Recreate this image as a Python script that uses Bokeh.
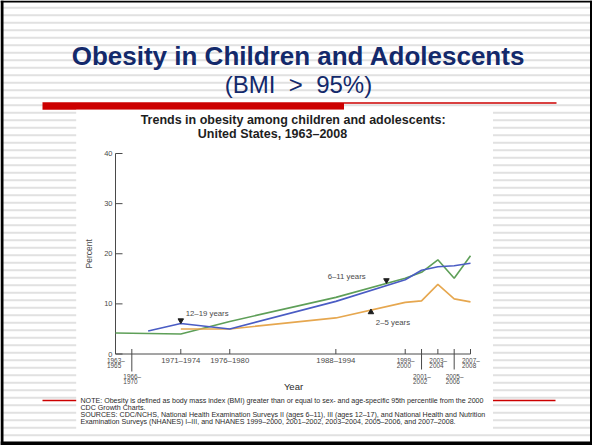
import numpy as np
from bokeh.plotting import figure
from bokeh.models import Range1d
from bokeh.core.properties import value
from bokeh.embed import file_html
from bokeh.resources import INLINE

# ---- data -----------------------------------------------------------------
periods = ["1963–1965", "1966–1970", "1971–1974", "1976–1980", "1988–1994",
           "1999–2000", "2001–2002", "2003–2004", "2005–2006", "2007–2008"]
survey_x = [1964, 1968, 1972, 1978, 1991, 1999.5, 2001.5, 2003.5, 2005.5, 2007.5]

# obesity prevalence, percent (None = age group not surveyed)
age_6_11 = [4.2, None, 4.0, 6.5, 11.3, 15.1, 16.3, 18.8, 15.1, 19.6]
age_12_19 = [None, 4.6, 6.1, 5.0, 10.5, 14.8, 16.7, 17.4, 17.6, 18.1]
age_2_5 = [None, None, 5.0, 5.0, 7.2, 10.3, 10.6, 13.9, 11.0, 10.4]

y_ticks = [0, 10, 20, 30, 40]

# x-axis labels: position, row (0 upper, 1 lower), stacked on two lines
label_x = [1964, 1966, 1972, 1978, 1991, 1999.5, 2001.5, 2003.5, 2005.5, 2007.5]
label_row = [0, 1, 0, 0, 0, 0, 1, 0, 1, 0]
label_stacked = [True, True, False, False, False, True, True, True, True, True]

# series call-outs: text, label anchor, pointer marker
callout_text = ["12–19 years", "6–11 years", "2–5 years"]
callout_x = [1972.6, 1990.0, 1995.9]
callout_y = [8.0, 15.5, 6.35]
pointer_x = [1972.0, 1997.2, 1995.3]
pointer_y = [6.7, 14.7, 8.35]
pointer_marker = ["inverted_triangle", "inverted_triangle", "triangle"]

notes = [
    "NOTE: Obesity is defined as body mass index (BMI) greater than or equal to sex- and age-specific 95th percentile from the 2000",
    "CDC Growth Charts.",
    "SOURCES: CDC/NCHS, National Health Examination Surveys II (ages 6–11), III (ages 12–17), and National Health and Nutrition",
    "Examination Surveys (NHANES) I–III, and NHANES 1999–2000, 2001–2002, 2003–2004, 2005–2006, and 2007–2008.",
]

# ---- page geometry -----------------------------------------------------------
W, H = 592, 445
X0_PX, K = 115.0, 8.161          # pixel of first survey, pixels per year
Y0_PX, PP = 353.5, 5.0125        # pixel of 0 %, pixels per percent
YEAR0 = survey_x[0]


def sx(px):
    return YEAR0 + (px - X0_PX) / K


def sy(py):
    return (Y0_PX - py) / PP


p = figure(width=W, height=H, output_backend="svg", toolbar_location=None,
           x_range=Range1d(sx(0), sx(W)), y_range=Range1d(sy(H), sy(0)),
           x_axis_location=None, y_axis_location=None, min_border=0,
           background_fill_color="white", border_fill_color="white",
           outline_line_color=None)
p.grid.visible = False

# slide background stripes
centers = np.arange(7.3, H, 7.5)
p.quad(left=sx(0), right=sx(W), top=[sy(c - 1.0) for c in centers],
       bottom=[sy(c + 1.0) for c in centers], fill_color="#e1e1e1", line_color=None)

# red rules
RED = "#cc0000"
p.quad(left=[sx(42), sx(343.5), sx(42)], right=[sx(343.5), sx(556), sx(555)],
       top=[sy(101.7), sy(101.8), sy(399.3)], bottom=[sy(109.3), sy(103.2), sy(400.7)],
       fill_color=RED, line_color=None)

# slide heading
NAVY = "#13296b"
p.text(x=[sx(298)], y=[sy(55.5)], text=["Obesity in Children and Adolescents"],
       text_font=value("Liberation Sans"), text_font_size=value("26px"),
       text_font_style="bold", text_color=NAVY, text_align="center",
       text_baseline="middle")
p.text(x=[sx(298)], y=[sy(84.2)], text=["(BMI\u00a0\u00a0>\u00a0\u00a095%)"],
       text_font=value("Liberation Sans"), text_font_size=value("24px"),
       text_color=NAVY, text_align="center", text_baseline="middle")

# white chart panel
p.quad(left=sx(75.7), right=sx(492.5), top=sy(109.3), bottom=sy(429),
       fill_color="white", line_color=None)

INK = "#2a2a2a"
GREY = "#4a4a4a"
FONT = value("Liberation Sans")

p.text(x=[sx(292.6), sx(272)], y=[sy(119.8), sy(133)],
       text=["Trends in obesity among children and adolescents:",
             "United States, 1963–2008"],
       text_font=FONT, text_font_size=value("12.5px"), text_font_style="bold",
       text_color="#1e1e1e", text_align="center", text_baseline="middle")

# y axis
p.segment(x0=[YEAR0], y0=[y_ticks[0]], x1=[YEAR0], y1=[y_ticks[-1]],
          line_color=GREY, line_width=1)
p.segment(x0=[YEAR0] * len(y_ticks), y0=y_ticks,
          x1=[YEAR0 + 7 / K] * len(y_ticks), y1=y_ticks, line_color=GREY, line_width=1)
p.text(x=[sx(112)] * len(y_ticks), y=y_ticks, text=[str(t) for t in y_ticks],
       text_font=FONT, text_font_size=value("7.5px"), text_color=GREY,
       text_align="right", text_baseline="middle")
p.text(x=[sx(88.3)], y=[20], text=["Percent"], angle=np.pi / 2,
       text_font=FONT, text_font_size=value("8.5px"), text_color=GREY,
       text_align="center", text_baseline="middle")

# x axis
p.segment(x0=[YEAR0], y0=[0], x1=[survey_x[-1]], y1=[0], line_color=GREY, line_width=1)
tick_up = 5 / PP
for x, row, stacked, lab in zip(label_x, label_row, label_stacked, periods):
    if x != YEAR0:
        low = -(17.5 if x == label_x[1] else 15.5) / PP if row else 0
        p.segment(x0=[x], y0=[tick_up], x1=[x], y1=[low], line_color=GREY, line_width=1)
    first, second = lab.split("–")
    if stacked:
        top_py = 359.5 if row == 0 else 375.5
        p.text(x=[x - 8.5 / K] * 2, y=[sy(top_py), sy(top_py + 5.6)],
               text=[first + "–", second], text_font=FONT,
               text_font_size=value("6.4px"), text_color=GREY,
               text_align="left", text_baseline="middle")
    else:
        p.text(x=[x], y=[sy(360)], text=[lab], text_font=FONT,
               text_font_size=value("7.8px"), text_color=GREY,
               text_align="center", text_baseline="middle")

p.text(x=[sx(293)], y=[sy(386)], text=["Year"], text_font=FONT,
       text_font_size=value("9.5px"), text_color=INK, text_align="center",
       text_baseline="middle")


# series
def present(vals):
    pts = [(x, v) for x, v in zip(survey_x, vals) if v is not None]
    return [a for a, _ in pts], [b for _, b in pts]


for vals, col in [(age_6_11, "#5e9f58"), (age_2_5, "#e6a74f"), (age_12_19, "#4a5cc4")]:
    xs, ys = present(vals)
    p.line(xs, ys, line_color=col, line_width=1.6)

for mk in set(pointer_marker):
    idx = [i for i, m in enumerate(pointer_marker) if m == mk]
    p.scatter([pointer_x[i] for i in idx], [pointer_y[i] for i in idx], marker=mk,
              size=5.5, fill_color="#1e1e1e", line_color="#1e1e1e")

p.text(x=callout_x, y=callout_y, text=callout_text, text_font=FONT,
       text_font_size=value("7.8px"), text_color=GREY, text_align="left",
       text_baseline="middle")

# footnotes
p.text(x=[sx(80)] * len(notes), y=[sy(v) for v in (400, 407.3, 414.3, 421.3)],
       text=notes, text_font=FONT, text_font_size=value("7.1px"), text_color=INK,
       text_align="left", text_baseline="middle")

# slide frame
p.quad(left=[sx(0), sx(0), sx(589.5), sx(0)], right=[sx(3), sx(W), sx(W), sx(W)],
       top=[sy(0), sy(0), sy(0), sy(441)], bottom=[sy(H), sy(2), sy(H), sy(H)],
       fill_color="black", line_color=None)

open("out.html", "w").write(file_html(p, INLINE))
